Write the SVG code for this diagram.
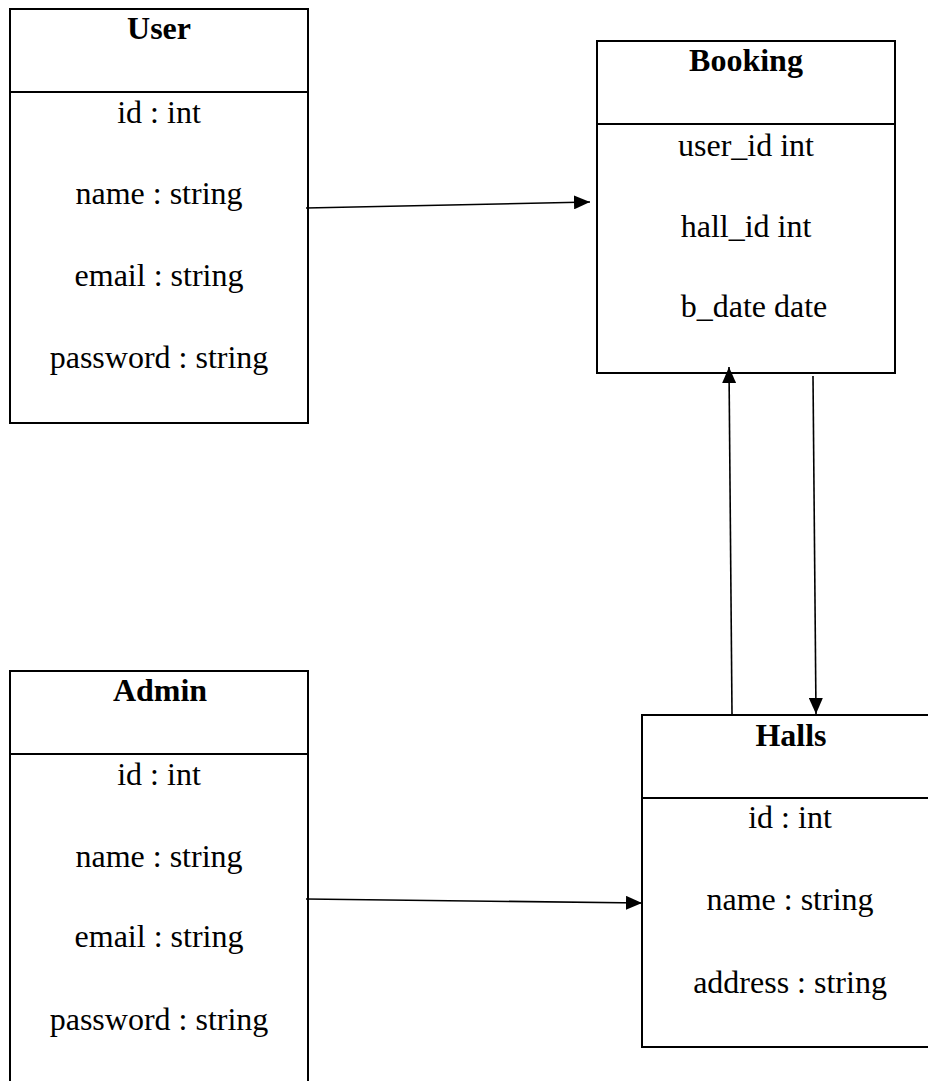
<svg xmlns="http://www.w3.org/2000/svg" width="928" height="1081" viewBox="0 0 928 1081">
<style>
.box{fill:#fff;stroke:#000;stroke-width:2}
.div{stroke:#000;stroke-width:2}
.t{font-family:"Liberation Serif","Times New Roman",serif;font-size:32px;fill:#000;text-anchor:middle}
.h{font-weight:bold}
.c{stroke:#000;stroke-width:1.6;fill:none}
</style>
<defs>
<marker id="arr" markerUnits="userSpaceOnUse" markerWidth="16" markerHeight="14" refX="16" refY="7" orient="auto">
<path d="M0,0 L16,7 L0,14 z" fill="#000"/>
</marker>
</defs>
<rect width="928" height="1081" fill="#fff"/>
<g id="user">
<rect class="box" x="10" y="9" width="298" height="414"/>
<line class="div" x1="10" y1="92" x2="308" y2="92"/>
<text class="t h" x="159" y="39">User</text>
<text class="t" x="159" y="123">id : int</text>
<text class="t" x="159" y="204">name : string</text>
<text class="t" x="159" y="286">email : string</text>
<text class="t" x="159" y="368">password : string</text>
</g>
<g id="booking">
<rect class="box" x="597" y="41" width="298" height="332"/>
<line class="div" x1="597" y1="124" x2="895" y2="124"/>
<text class="t h" x="746" y="71">Booking</text>
<text class="t" x="746" y="156">user_id int</text>
<text class="t" x="746" y="237">hall_id int</text>
<text class="t" x="754" y="317">b_date date</text>
</g>
<g id="admin">
<rect class="box" x="10" y="671" width="298" height="430"/>
<line class="div" x1="10" y1="754" x2="308" y2="754"/>
<text class="t h" x="160" y="701">Admin</text>
<text class="t" x="159" y="785">id : int</text>
<text class="t" x="159" y="867">name : string</text>
<text class="t" x="159" y="947">email : string</text>
<text class="t" x="159" y="1030">password : string</text>
</g>
<g id="halls">
<rect class="box" x="642" y="715" width="298" height="332"/>
<line class="div" x1="642" y1="798" x2="940" y2="798"/>
<text class="t h" x="791" y="746">Halls</text>
<text class="t" x="790" y="828">id : int</text>
<text class="t" x="790" y="910">name : string</text>
<text class="t" x="790" y="993">address : string</text>
</g>
<g id="connectors">
<line class="c" x1="306" y1="208" x2="590" y2="202" marker-end="url(#arr)"/>
<line class="c" x1="732" y1="714" x2="729" y2="367" marker-end="url(#arr)"/>
<line class="c" x1="813" y1="376" x2="816" y2="714" marker-end="url(#arr)"/>
<line class="c" x1="306" y1="899" x2="642" y2="903" marker-end="url(#arr)"/>
</g>
</svg>
